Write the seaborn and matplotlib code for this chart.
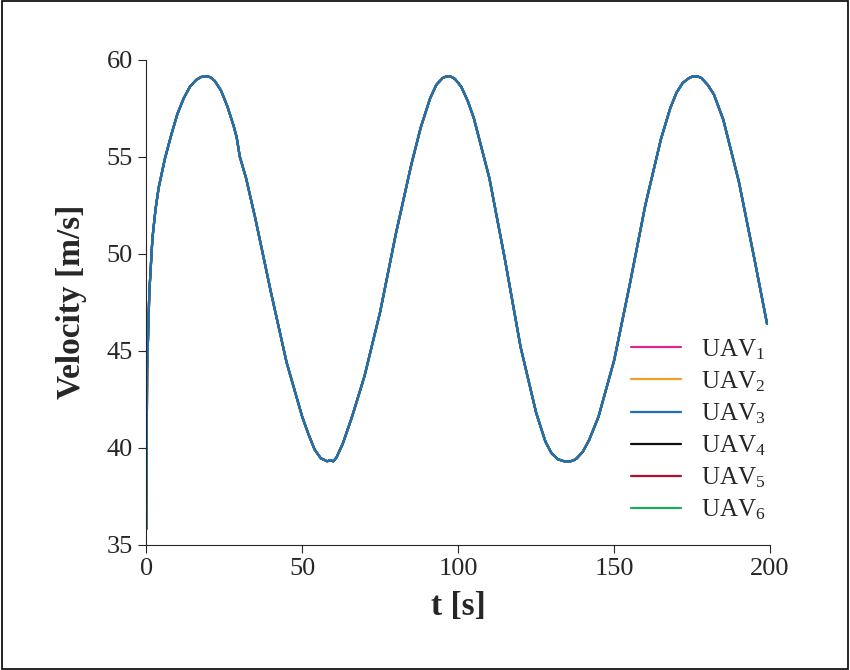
import matplotlib
matplotlib.use("Agg")
import matplotlib.pyplot as plt
import pandas as pd
import seaborn as sns

t = [0, 0.3, 1, 2, 3, 4, 6, 8, 10, 12, 14, 16, 17.5, 19, 20.5, 22, 24, 26, 28, 29,
     30, 32, 35, 40, 45, 50, 52, 54, 56, 58, 59, 60, 61, 63, 66, 70, 75, 80, 85,
     88, 91, 93, 95, 96, 97, 98, 99, 101, 103, 105, 110, 115, 120, 125, 128, 130,
     132, 134, 136, 137, 138, 140, 142, 145, 150, 155, 160, 165, 168, 170, 172,
     174, 175, 176, 177, 178, 180, 182, 185, 190, 195, 199]
velocity = [35.8, 44, 48, 50.8, 52.3, 53.4, 54.9, 56.1, 57.2, 58.0, 58.6, 58.95,
            59.1, 59.15, 59.1, 58.9, 58.4, 57.6, 56.6, 56, 55, 53.9, 51.8, 48, 44.4,
            41.6, 40.7, 39.9, 39.45, 39.3, 39.35, 39.3, 39.5, 40.2, 41.6, 43.7, 47,
            51, 54.6, 56.5, 58.0, 58.7, 59.05, 59.12, 59.15, 59.1, 59.0, 58.6, 57.9,
            57, 53.9, 49.7, 45.2, 41.8, 40.3, 39.7, 39.4, 39.3, 39.3, 39.35, 39.45,
            39.8, 40.4, 41.6, 44.5, 48.4, 52.5, 55.9, 57.5, 58.3, 58.8, 59.05, 59.12,
            59.15, 59.12, 59.05, 58.7, 58.2, 56.9, 53.7, 49.7, 46.4]
uav_names = ["UAV$_1$", "UAV$_2$", "UAV$_3$", "UAV$_4$", "UAV$_5$", "UAV$_6$"]
uav_colors = ["#e0288c", "#f0a030", "#1f6fb4", "#111111", "#b01030", "#20a860"]

sns.set_style("ticks")
plt.rcParams["font.family"] = ["Liberation Serif", "DejaVu Serif"]
plt.rcParams["mathtext.fontset"] = "custom"
plt.rcParams["mathtext.rm"] = "Liberation Serif"
plt.rcParams["mathtext.it"] = "Liberation Serif"

fig = plt.figure(figsize=(8.5, 6.7), dpi=100)
ax = fig.add_axes([0.172, 0.187, 0.734, 0.724])

# all UAVs share the same trajectory; draw UAV3 last so it sits on top
order = [0, 1, 3, 4, 5, 2]
for i in order:
    df = pd.DataFrame({"t": t, "v": velocity})
    sns.lineplot(data=df, x="t", y="v", ax=ax, color=uav_colors[i],
                 label=uav_names[i], linewidth=1.6)

handles, labels = ax.get_legend_handles_labels()
hmap = dict(zip(labels, handles))
ax.legend([hmap[n] for n in uav_names], uav_names, loc="lower right",
          bbox_to_anchor=(1.03, 0.0), frameon=False, fontsize=18,
          handlelength=2.0, labelspacing=0.3)

ax.set_xlim(0, 200)
ax.set_ylim(35, 60)
ax.set_xticks([0, 50, 100, 150, 200])
ax.set_yticks([35, 40, 45, 50, 55, 60])
ax.tick_params(labelsize=19, direction="out", length=6)
sns.despine(ax=ax)
ax.set_xlabel("t [s]", fontsize=24, fontweight="bold", labelpad=8)
ax.set_ylabel("Velocity [m/s]", fontsize=24, fontweight="bold", labelpad=14)

fig.patches.append(plt.Rectangle((0.002, 0.002), 0.996, 0.996, transform=fig.transFigure,
                                 fill=False, edgecolor="black", linewidth=1.2))
fig.savefig("out.png", dpi=100)
